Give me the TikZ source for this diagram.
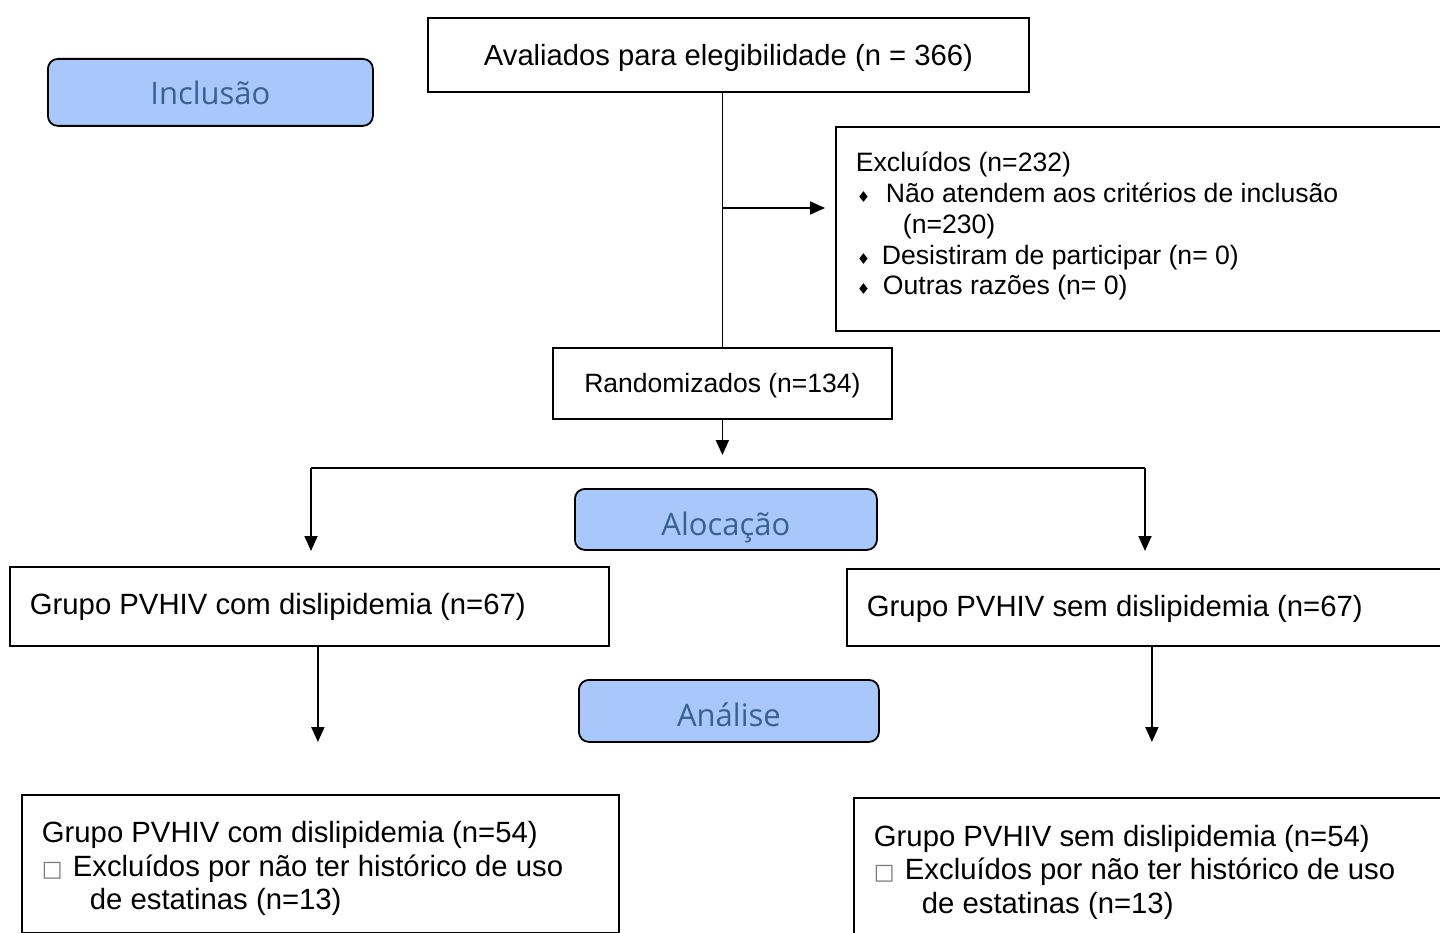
\documentclass[tikz,border=0pt]{standalone}
\usepackage{fontspec}
\setmainfont{Liberation Sans}
\newfontfamily\labelfont{Open Sans}
\newfontfamily\symfont{DejaVu Sans}
\usetikzlibrary{arrows.meta,calc}
\definecolor{fillblue}{RGB}{168,199,250}
\definecolor{textblue}{RGB}{58,96,146}
\definecolor{tofu}{RGB}{120,120,120}
\newcommand{\dia}{\makebox[26pt][l]{\hspace*{1pt}{\symfont\fontsize{15}{15}\selectfont ♦}}}
\newcommand{\tof}{\makebox[31pt][l]{\hspace*{0pt}{\color{tofu}\symfont\fontsize{22}{22}\selectfont □}}}
\begin{document}
\begin{tikzpicture}[x=1pt,y=-1pt,
  box/.style={draw, line width=1.8pt, anchor=north west, inner ysep=0pt, inner xsep=0pt},
  lbox/.style={box, inner xsep=20pt},
  stagebox/.style={draw, line width=1.8pt, rounded corners=10pt, fill=fillblue, anchor=north west,
     inner sep=0pt, text=textblue, font=\labelfont\fontsize{31}{34}\selectfont},
  link/.style={line width=1.8pt},
  arr/.style={line width=1.8pt, -{Triangle[width=13pt,length=15pt]}}]
\useasboundingbox (0,0) rectangle (1440,933);
\fill[white] (0,0) rectangle (1440,933);

% stage labels
\node[stagebox, minimum width=325pt, text height=46pt, text depth=21pt] (incl) at (47,58) {Inclusão};
\node[stagebox, minimum width=302pt, text height=47pt, text depth=14pt] (aloc) at (574,488) {Alocação};
\node[stagebox, minimum width=300pt, text height=46.5pt, text depth=15.5pt] (anal) at (578,679) {Análise};

% boxes
\node[box, minimum width=601pt, text height=48pt, text depth=26pt, font=\fontsize{29.2}{34}\selectfont] (aval) at (427,17)
  {Avaliados para elegibilidade (n = 366)};
\node[lbox, minimum width=615pt, text height=45pt, text depth=159pt, font=\fontsize{26.6}{30.75}\selectfont] (excl) at (835,126)
  {\parbox[t]{575pt}{\raggedright Excluídos (n=232)\\
   \dia\hspace*{4pt}Não atendem aos critérios de inclusão\\
   \hspace*{47pt}(n=230)\\
   \dia Desistiram de participar (n= 0)\\
   \dia\hspace*{1pt}Outras razões (n= 0)}};
\node[box, minimum width=339pt, text height=45pt, text depth=26pt, font=\fontsize{26.5}{31}\selectfont] (rand) at (552,347)
  {Randomizados (n=134)};
\node[lbox, minimum width=599pt, text height=48pt, text depth=31pt, font=\fontsize{29.3}{34}\selectfont] (gl) at (9,566)
  {\parbox[t]{559pt}{Grupo PVHIV com dislipidemia (n=67)}};
\node[lbox, minimum width=604pt, text height=48pt, text depth=29pt, font=\fontsize{29.3}{34}\selectfont] (gr) at (846,568)
  {\parbox[t]{564pt}{Grupo PVHIV sem dislipidemia (n=67)}};
\node[lbox, minimum width=597pt, text height=47.5pt, text depth=90.5pt, font=\fontsize{29.3}{33.7}\selectfont] (bl) at (21,794)
  {\parbox[t]{557pt}{\raggedright Grupo PVHIV com dislipidemia (n=54)\\
   \tof Excluídos por não ter histórico de uso\\
   \hspace*{48pt}de estatinas (n=13)}};
\node[lbox, minimum width=597pt, text height=48.5pt, text depth=97.5pt, font=\fontsize{29.3}{33.5}\selectfont] (br) at (853,797)
  {\parbox[t]{557pt}{\raggedright Grupo PVHIV sem dislipidemia (n=54)\\
   \tof Excluídos por não ter histórico de uso\\
   \hspace*{48pt}de estatinas (n=13)}};

% connectors
\coordinate (branch) at (722,208);
\coordinate (split) at (722,468);
\coordinate (hl) at (311,468);
\coordinate (hr) at (1145,468);
\draw[link] (aval.south -| rand.north) -- (rand.north);
\draw[arr, shorten >=10pt] (branch) -- (branch -| excl.west);
\draw[arr, shorten >=13pt] (rand.south) -- (rand.south |- split);
\draw[link] (hl) -- (hr);
\draw[arr, shorten >=15pt] (hl) -- (hl |- gl.north);
\draw[arr, shorten >=17pt] (hr) -- (hr |- gr.north);
\draw[arr, shorten >=52pt] ([xshift=8.5pt]gl.south) -- ([xshift=8.5pt]gl.south |- bl.north);
\draw[arr, shorten >=55pt] ([xshift=3pt]gr.south) -- ([xshift=3pt]gr.south |- br.north);
\end{tikzpicture}
\end{document}
